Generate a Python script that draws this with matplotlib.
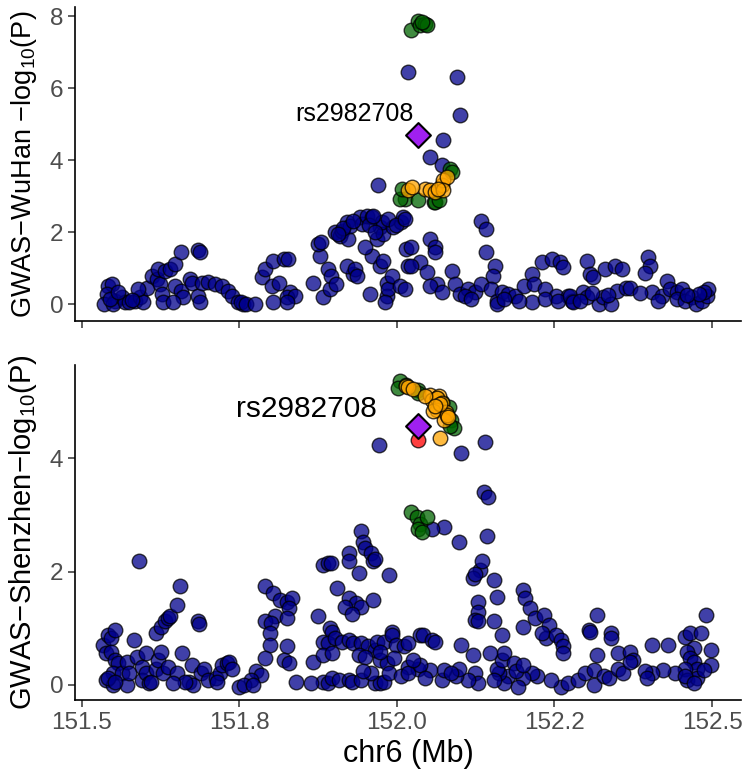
import matplotlib
matplotlib.use("Agg")
import matplotlib.pyplot as plt

plt.rcParams["font.family"] = ["Liberation Sans", "DejaVu Sans"]
plt.rcParams["mathtext.fontset"] = "custom"
plt.rcParams["mathtext.rm"] = "Liberation Sans"
plt.rcParams["mathtext.it"] = "Liberation Sans:italic"

# lead SNP
lead_name = "rs2982708"
lead_pos = 152.034

# ---------------- GWAS-WuHan ----------------
wh_blue_x = [
    151.542, 151.547, 151.539, 151.535, 151.552, 151.550, 151.563, 151.568, 151.574, 151.584,
    151.592, 151.597, 151.603, 151.589, 151.611, 151.619, 151.621, 151.624, 151.627, 151.629,
    151.632, 151.640, 151.648, 151.658, 151.648, 151.658, 151.661, 151.645, 151.671, 151.674,
    151.685, 151.688, 151.685, 151.687, 151.690, 151.700, 151.711, 151.722, 151.732, 151.738,
    151.748, 151.756, 151.545, 151.558, 151.579,
    151.753, 151.761, 151.775, 151.785, 151.790, 151.801, 151.804, 151.812, 151.820, 151.827,
    151.830, 151.825, 151.838, 151.825, 151.804, 151.867, 151.878, 151.875, 151.880, 151.883,
    151.891, 151.894, 151.896, 151.904, 151.902, 151.910, 151.912, 151.920, 151.923, 151.925,
    151.931, 151.920, 151.933, 151.941, 151.944, 151.936, 151.952, 151.960, 151.957, 151.960,
    151.949, 151.968, 151.973, 151.978, 151.976, 151.973, 151.978, 151.984, 151.984, 151.986,
    151.992, 151.994, 152.005, 152.007, 152.010, 152.015, 152.018, 151.970, 151.981,
    151.915, 151.930, 151.955, 151.965, 151.985, 151.998, 151.962, 151.906,
    152.018, 152.095, 152.100, 152.073, 152.052, 152.071, 152.013, 152.134, 152.142, 152.142,
    152.156, 152.052, 152.060, 152.060, 152.023, 152.037, 152.047, 152.063, 152.087, 152.092,
    152.100, 152.113, 152.124, 152.134, 152.153, 152.150, 152.158, 152.166, 152.177, 152.187,
    152.201, 152.214, 152.217, 152.214, 152.230, 152.246, 152.259, 152.264, 152.235, 152.253,
    152.272, 152.013, 152.023, 152.052, 152.071, 152.108, 152.118, 152.158, 152.170, 152.193,
    152.235, 152.256, 152.277,
    152.275, 152.280, 152.301, 152.306, 152.311, 152.296, 152.301, 152.320, 152.330, 152.327,
    152.340, 152.346, 152.357, 152.349, 152.364, 152.370, 152.399, 152.402, 152.394, 152.404,
    152.420, 152.428, 152.433, 152.444, 152.452, 152.444, 152.457, 152.468, 152.474, 152.484,
    152.492, 152.494, 152.487, 152.479, 152.290, 152.310, 152.335, 152.385, 152.415, 152.460,
]
wh_blue_y = [
    0.49, 0.56, 0.28, 0.00, 0.09, 0.00, 0.19, 0.05, 0.05, 0.09,
    0.19, 0.05, 0.46, 0.42, 0.79, 0.70, 0.97, 0.56, 0.28, 0.05,
    0.93, 0.97, 1.11, 1.44, 0.51, 0.37, 0.19, 0.05, 0.70, 0.60,
    1.49, 1.45, 0.23, 0.05, 0.60, 0.62, 0.56, 0.49, 0.37, 0.23,
    0.05, 0.00, 0.15, 0.35, 0.12,
    0.05, 0.00, 0.00, 0.74, 0.97, 0.51, 1.21, 0.60, 1.25, 1.25,
    0.33, 0.19, 0.23, 0.05, 0.05, 0.60, 1.35, 1.67, 1.72, 0.19,
    0.97, 0.42, 0.79, 0.56, 2.00, 1.90, 2.04, 2.28, 1.81, 2.18,
    0.84, 1.07, 0.97, 2.42, 2.23, 0.79, 2.46, 2.42, 0.28, 1.35,
    1.58, 1.81, 2.14, 1.95, 2.28, 1.07, 1.21, 0.60, 0.23, 0.42,
    0.79, 2.14, 0.51, 2.28, 2.42, 1.53, 1.07, 3.30, 0.05,
    2.10, 2.30, 2.20, 2.00, 2.35, 2.20, 2.45, 1.95,
    6.45, 6.31, 5.24, 4.55, 4.09, 3.85, 2.37, 2.32, 2.09, 1.44,
    1.07, 1.81, 1.58, 1.44, 1.58, 1.16, 0.88, 0.56, 0.93, 0.56,
    0.28, 0.42, 0.33, 0.56, 0.79, 0.42, 0.09, 0.33, 0.28, 0.23,
    0.51, 0.84, 0.56, 0.05, 1.16, 1.25, 1.16, 1.02, 0.42, 0.23,
    0.23, 0.42, 1.07, 0.51, 0.33, 0.23, 0.14, 0.00, 0.14, 0.09,
    0.14, 0.09, 0.09,
    0.23, 0.05, 1.21, 0.84, 0.74, 0.33, 0.19, 0.00, 0.97, 0.19,
    0.00, 1.07, 0.97, 0.37, 0.46, 0.46, 1.30, 1.07, 0.86, 0.33,
    0.23, 0.65, 0.42, 0.33, 0.42, 0.14, 0.09, 0.19, 0.00, 0.09,
    0.23, 0.42, 0.33, 0.28, 0.10, 0.30, 0.25, 0.30, 0.10, 0.25,
]
wh_green_x = [152.023, 152.034, 152.037, 152.044, 152.047, 152.040,
              152.013, 152.005, 152.034, 152.058, 152.060, 152.084, 152.087, 152.008, 152.066]
wh_green_y = [7.61, 7.85, 7.76, 7.78, 7.75, 7.82,
              2.92, 2.92, 2.88, 2.83, 2.83, 3.76, 3.67, 3.20, 2.90]
wh_orange_x = [152.018, 152.044, 152.052, 152.060, 152.071, 152.073, 152.079, 152.073, 152.024, 152.065]
wh_orange_y = [3.16, 3.20, 3.16, 3.11, 3.30, 3.44, 3.53, 3.16, 3.26, 3.20]
wh_lead_y = 4.69

# ---------------- GWAS-Shenzhen ----------------
sz_blue_x = [
    151.534, 151.542, 151.546, 151.553, 151.538, 151.546, 151.553, 151.557, 151.549, 151.538,
    151.549, 151.542, 151.564, 151.572, 151.572, 151.583, 151.591, 151.587, 151.595, 151.595,
    151.602, 151.602, 151.606, 151.610, 151.617, 151.621, 151.625, 151.617, 151.625, 151.632,
    151.636, 151.640, 151.651, 151.655, 151.629, 151.636, 151.651, 151.659, 151.674, 151.670,
    151.677, 151.685, 151.686, 151.689, 151.693, 151.700, 151.712, 151.719, 151.723, 151.731,
    151.734, 151.738, 151.715, 151.663, 151.645, 151.575, 151.553,
    151.791, 151.803, 151.814, 151.825, 151.833, 151.829, 151.806, 151.791, 151.800, 151.825,
    151.799, 151.799, 151.825, 151.791, 151.821, 151.829, 151.840, 151.776, 151.784, 151.769,
    151.750, 151.757, 151.772,
    151.882, 151.890, 151.895, 151.924, 151.924, 151.943, 151.946, 151.950, 151.958, 151.962,
    151.965, 151.939, 151.988, 151.905, 151.924, 151.935, 151.943, 151.962, 151.917, 151.928,
    151.874, 151.893, 151.897, 151.882, 151.890, 151.901, 151.912, 151.924, 151.931, 151.943,
    151.954, 151.965, 151.969, 151.980, 151.992, 151.992, 151.999, 152.011, 152.018, 152.037,
    151.867, 151.882, 151.897, 151.939, 151.950, 151.973, 151.984, 151.995, 151.973, 151.882,
    151.890, 151.897, 151.908, 151.924, 151.928, 151.943, 151.965, 151.973, 151.980, 151.958,
    151.988, 151.946, 151.863, 152.018, 152.007,
    151.971, 152.101, 152.139, 152.138, 152.145, 152.143, 152.075, 152.098, 152.056, 152.132,
    152.135, 152.120, 152.124, 152.154, 152.158, 152.128, 152.128, 152.124, 152.128, 152.154,
    152.166, 152.200, 152.203, 152.211, 152.219, 152.234, 152.241, 152.237, 152.230, 152.253,
    152.260, 152.264, 152.264, 152.200, 152.317, 152.305, 152.306, 152.340, 152.340, 152.317,
    152.351, 152.370, 152.374, 152.404, 152.430, 152.457, 152.465, 152.483, 152.491, 152.498,
    152.472, 152.461, 152.465, 152.472, 152.498, 152.476, 152.457, 152.441, 152.422, 152.404,
    152.393, 152.397, 152.461, 152.476, 152.487, 152.457, 152.472, 152.260, 152.272, 152.287,
    152.298, 152.313, 152.313, 152.328, 152.336, 152.351, 152.358, 152.370, 152.245, 152.222,
    152.215, 152.200, 152.192, 152.177, 152.170, 152.162, 152.158, 152.166, 152.170, 152.185,
    152.189, 152.200, 152.147, 152.154, 152.124, 152.128, 152.113, 152.094, 152.098, 152.120,
    152.101, 152.071, 152.075, 152.086, 152.052, 152.033, 152.018, 152.037, 152.026, 152.041,
    152.056, 152.060, 152.045,
]
sz_blue_y = [
    0.71, 0.88, 0.82, 0.97, 0.56, 0.59, 0.44, 0.38, 0.21, 0.09,
    0.00, 0.12, 0.21, 0.00, 0.41, 0.79, 2.18, 0.50, 0.32, 0.09,
    0.56, 0.21, 0.03, 0.06, 0.29, 0.44, 0.59, 0.91, 1.03, 1.12,
    1.18, 1.21, 1.41, 1.74, 0.21, 0.32, 0.21, 0.56, 0.35, 0.06,
    0.00, 1.12, 1.08, 0.21, 0.29, 0.09, 0.12, 0.21, 0.35, 0.38,
    0.41, 0.29, 0.06, 0.06, 0.03, 0.21, 0.06,
    1.74, 1.62, 1.50, 1.47, 1.53, 1.35, 1.21, 1.12, 1.10, 1.18,
    0.91, 0.71, 0.68, 0.47, 0.44, 0.38, 0.06, 0.24, 0.18, 0.09,
    -0.03, 0.00, 0.00,
    2.12, 2.15, 2.16, 2.32, 2.18, 2.71, 2.53, 2.41, 2.32, 2.18,
    2.22, 1.97, 1.94, 1.71, 1.53, 1.44, 1.38, 1.50, 1.38, 1.26,
    1.21, 1.00, 0.93, 0.76, 0.74, 0.82, 0.76, 0.79, 0.74, 0.74,
    0.68, 0.62, 0.76, 0.76, 0.94, 0.88, 0.71, 0.68, 0.74, 0.88,
    0.41, 0.53, 0.56, 0.53, 0.50, 0.44, 0.38, 0.47, 0.59, 0.06,
    0.03, 0.12, 0.09, 0.09, 0.06, 0.09, 0.03, 0.03, 0.06, 0.21,
    0.21, 0.24, 0.03, 0.32, 0.15,
    4.24, 4.09, 4.28, 3.41, 3.32, 2.62, 2.78, 2.53, 2.76, 2.03,
    2.18, 1.88, 1.95, 1.85, 1.56, 1.47, 1.29, 1.15, 1.12, 1.12,
    0.88, 1.68, 1.53, 1.35, 1.18, 1.24, 1.06, 0.82, 0.91, 0.88,
    0.79, 0.68, 0.56, 1.03, 1.24, 0.97, 0.93, 0.91, 0.82, 0.53,
    0.56, 0.59, 0.44, 0.71, 0.71, 0.85, 0.91, 0.91, 1.24, 0.62,
    0.65, 0.59, 0.47, 0.41, 0.35, 0.29, 0.29, 0.21, 0.26, 0.21,
    0.24, 0.12, 0.09, 0.12, 0.26, 0.15, 0.03, -0.03, 0.03, 0.09,
    0.21, 0.26, 0.00, 0.15, 0.12, 0.29, 0.21, 0.41, 0.09, 0.15,
    0.21, 0.12, -0.03, 0.15, 0.03, 0.21, 0.29, 0.44, 0.56, 0.38,
    0.24, 0.35, 0.56, 0.09, 0.21, 0.03, 0.09, 0.15, 0.29, 0.53,
    0.71, 0.09, 0.26, 0.21, 0.26, 0.29, 0.21, 0.35, 0.44, 0.88,
    0.79, 0.76, 0.12,
]
sz_green_x = [152.005, 152.002, 152.014, 152.033, 152.034, 152.063, 152.082, 152.086, 152.090,
              152.084, 152.071, 152.023, 152.031, 152.037, 152.047, 152.034, 152.040]
sz_green_y = [5.36, 5.24, 5.29, 5.21, 5.15, 5.06, 4.91, 4.68, 4.53,
              4.57, 5.00, 3.05, 2.96, 2.84, 2.96, 2.75, 2.70]
sz_orange_x = [152.015, 152.018, 152.026, 152.052, 152.056, 152.067, 152.063, 152.071, 152.063,
               152.078, 152.074, 152.079, 152.057, 152.068, 152.068, 152.045, 152.081, 152.060]
sz_orange_y = [5.27, 5.26, 5.22, 5.12, 5.03, 5.09, 5.07, 4.97, 4.85,
               4.82, 4.68, 4.77, 4.83, 4.95, 4.36, 5.10, 4.72, 4.92]
sz_red_x = [152.034]
sz_red_y = [4.32]
sz_lead_y = 4.56

W, H = 743, 773
fig = plt.figure(figsize=(W / 100, H / 100), dpi=100)
ax1 = fig.add_axes([75 / W, 1 - 320.7 / H, 666 / W, 313.7 / H])
ax2 = fig.add_axes([75 / W, 1 - 700 / H, 666 / W, 335.3 / H])

pt = dict(s=110, alpha=0.75, edgecolors="black", linewidths=1.0)


def draw_panel(ax, bx, by, gx, gy, ox, oy, lead_y, rx=None, ry=None):
    ax.scatter(bx, by, c="darkblue", zorder=2, **pt)
    ax.scatter(gx, gy, c="darkgreen", zorder=3, **pt)
    ax.scatter(ox, oy, c="orange", zorder=4, **pt)
    if rx is not None:
        ax.scatter(rx, ry, c="red", zorder=5, **pt)
    ax.scatter([lead_pos], [lead_y], marker="D", s=160, c="#A020F0",
               edgecolors="black", linewidths=1.5, zorder=6)
    for side in ["top", "right"]:
        ax.spines[side].set_visible(False)
    for side in ["left", "bottom"]:
        ax.spines[side].set_linewidth(1.2)
    ax.set_xlim(151.489, 152.546)
    ax.set_xticks([151.5, 151.75, 152.0, 152.25, 152.5])
    ax.tick_params(axis="both", length=5, width=1.1, labelsize=17.5, labelcolor="#4D4D4D", color="#333333")


draw_panel(ax1, wh_blue_x, wh_blue_y, wh_green_x, wh_green_y, wh_orange_x, wh_orange_y, wh_lead_y)
ax1.set_ylim(-0.46, 8.25)
ax1.set_yticks([0, 2, 4, 6, 8])
ax1.set_xticklabels([])
ax1.set_ylabel("GWAS\u2212WuHan \u2212log$_{10}$(P)", fontsize=19.5)
ax1.text(151.932, 5.29, lead_name, fontsize=18, ha="center", va="center")

draw_panel(ax2, sz_blue_x, sz_blue_y, sz_green_x, sz_green_y, sz_orange_x, sz_orange_y, sz_lead_y,
           sz_red_x, sz_red_y)
ax2.set_ylim(-0.265, 5.65)
ax2.set_yticks([0, 2, 4])
ax2.set_xticklabels(["151.5", "151.8", "152.0", "152.2", "152.5"])
ax2.set_ylabel("GWAS\u2212Shenzhen\u2212log$_{10}$(P)", fontsize=21)
ax2.set_xlabel("chr6 (Mb)", fontsize=22)
ax2.text(151.857, 4.87, lead_name, fontsize=21.5, ha="center", va="center")

for ax in (ax1, ax2):
    ax.yaxis.set_label_coords(-36 / 666, 0.5)

fig.savefig("out.png", dpi=100)
